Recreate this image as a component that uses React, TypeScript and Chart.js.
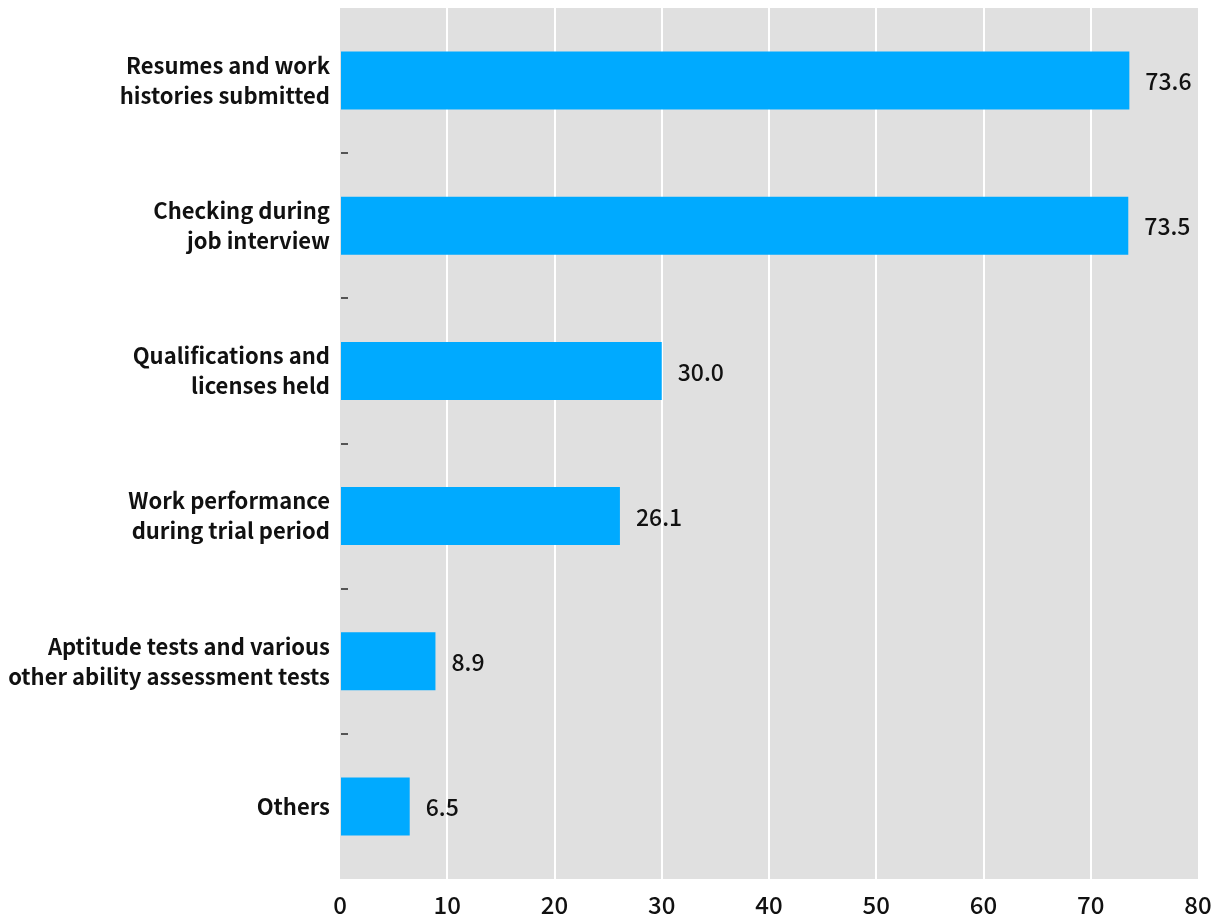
import React, { useEffect, useRef } from "react";
import { Chart, registerables } from "chart.js";

Chart.register(...registerables);

const categories: string[][] = [
  ["Resumes and work", "histories submitted"],
  ["Checking during", "job interview"],
  ["Qualifications and", "licenses held"],
  ["Work performance", "during trial period"],
  ["Aptitude tests and various", "other ability assessment tests"],
  ["Others"],
];
const values: number[] = [73.6, 73.5, 30.0, 26.1, 8.9, 6.5];
const xTicks: number[] = [0, 10, 20, 30, 40, 50, 60, 70, 80];

const FONT = "'Noto Sans CJK JP', 'Noto Sans', sans-serif";

const bgPlugin = {
  id: "bgPlugin",
  beforeDraw(chart: any) {
    const { ctx, chartArea } = chart;
    ctx.save();
    ctx.fillStyle = "#e0e0e0";
    ctx.fillRect(chartArea.left, chartArea.top, chartArea.right - chartArea.left, chartArea.bottom - chartArea.top);
    ctx.restore();
  },
  afterDraw(chart: any) {
    const { ctx, chartArea } = chart;
    const y = chart.scales.y;
    ctx.save();
    ctx.fillStyle = "#555555";
    for (let i = 1; i < categories.length; i++) {
      const py = (y.getPixelForValue(i - 1) + y.getPixelForValue(i)) / 2;
      ctx.fillRect(chartArea.left + 1, Math.round(py) - 1, 7, 2);
    }
    ctx.restore();
  },
};

const labelPlugin = {
  id: "labelPlugin",
  afterDatasetsDraw(chart: any) {
    const { ctx } = chart;
    const meta = chart.getDatasetMeta(0);
    ctx.save();
    ctx.fillStyle = "#111111";
    ctx.font = `500 23px ${FONT}`;
    ctx.textAlign = "left";
    ctx.textBaseline = "middle";
    meta.data.forEach((bar: any, i: number) => {
      ctx.fillText(values[i].toFixed(1), bar.x + 16, bar.y + 1);
    });
    ctx.restore();
  },
};

export default function App() {
  const ref = useRef<HTMLCanvasElement>(null);
  useEffect(() => {
    if (!ref.current) return;
    const chart = new Chart(ref.current, {
      type: "bar",
      data: {
        labels: categories,
        datasets: [
          {
            data: values,
            backgroundColor: "#00aaff",
            barPercentage: 0.4,
            categoryPercentage: 1,
          },
        ],
      },
      options: {
        indexAxis: "y",
        animation: false,
        responsive: true,
        maintainAspectRatio: false,
        layout: { padding: { left: 0, right: 24, top: 8, bottom: 0 } },
        plugins: { legend: { display: false }, tooltip: { enabled: false } },
        scales: {
          x: {
            min: 0,
            max: 80,
            afterBuildTicks(scale: any) {
              scale.ticks = xTicks.map((v) => ({ value: v }));
            },
            afterFit(scale: any) {
              scale.height = 43;
              scale.paddingLeft = 0;
              scale.paddingRight = 0;
            },
            border: { display: false },
            grid: {
              drawTicks: false,
              lineWidth: 2,
              color: (c: any) => (c.index === 0 || c.index === xTicks.length - 1 ? "rgba(0,0,0,0)" : "#ffffff"),
            },
            ticks: {
              color: "#111111",
              padding: 11,
              font: { family: FONT, size: 24, weight: 500 },
            },
          },
          y: {
            afterFit(scale: any) {
              scale.width = 340;
              scale.paddingTop = 0;
              scale.paddingBottom = 0;
            },
            border: { display: false },
            grid: { display: false },
            ticks: {
              color: "#111111",
              padding: 2,
              font: { family: FONT, size: 22, weight: "bold", lineHeight: 1.36 },
            },
          },
        },
      },
      plugins: [bgPlugin, labelPlugin],
    });
    return () => chart.destroy();
  }, []);
  return (
    <div style={{ position: "fixed", left: 0, top: 0, width: 1222, height: 922 }}>
      <canvas ref={ref} />
    </div>
  );
}
